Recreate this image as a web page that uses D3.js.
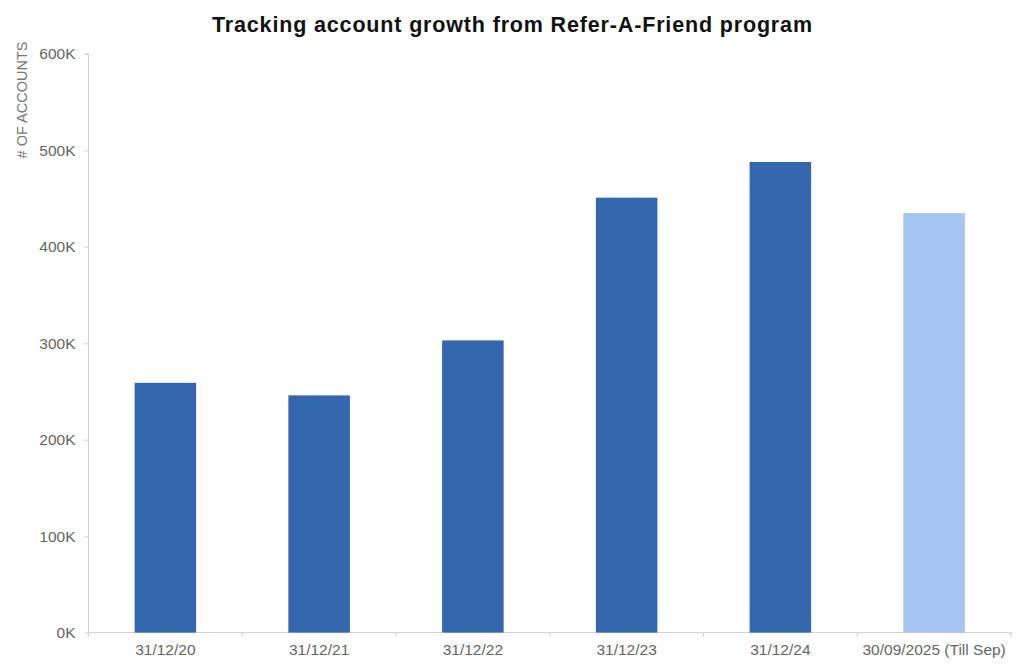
<!DOCTYPE html>
<html><head><meta charset="utf-8">
<script src="https://cdn.jsdelivr.net/npm/d3@7"></script>
<style>body{margin:0;background:#fff}svg{display:block}text{font-family:"Liberation Sans",Arial,sans-serif}</style>
</head><body>
<svg id="c" width="1024" height="667"></svg>
<script>
const categories = ["31/12/20","31/12/21","31/12/22","31/12/23","31/12/24","30/09/2025 (Till Sep)"];
const values = [259000, 246000, 303000, 451000, 488000, 435000];
const colors = ["#3567AF","#3567AF","#3567AF","#3567AF","#3567AF","#A6C4F2"];
const yTicks = [0,100000,200000,300000,400000,500000,600000];

const svg = d3.select("#c");
const m = {left:88.5, right:1011, top:54, bottom:632.6};
const x = d3.scaleBand().domain(categories).range([m.left, m.right]).paddingInner(0.6).paddingOuter(0.3);
const y = d3.scaleLinear().domain([0,600000]).range([m.bottom, m.top]);

svg.append("text").attr("x",512).attr("y",31.5).attr("text-anchor","middle")
  .attr("textLength",600).attr("lengthAdjust","spacing")
  .style("font-size","21.5px").style("font-weight","bold").attr("fill","#111")
  .text("Tracking account growth from Refer-A-Friend program");

// y axis
const ya = svg.append("g").attr("transform",`translate(${m.left},0)`)
  .call(d3.axisLeft(y).tickValues(yTicks).tickFormat(d=>(d/1000)+"K").tickSize(4).tickPadding(9));
ya.select(".domain").attr("stroke","#cfcfcf").attr("d",`M-4,${m.top}H0V${m.bottom}`);
ya.selectAll(".tick line").attr("stroke","#cfcfcf");
ya.selectAll(".tick text").attr("fill","#666").style("font-size","15.5px");

// x axis
const xa = svg.append("g").attr("transform",`translate(0,${m.bottom})`)
  .call(d3.axisBottom(x).tickSize(0).tickPadding(11));
xa.select(".domain").attr("stroke","#cfcfcf").attr("d",`M${m.left},0H${m.right}V4`);
xa.selectAll(".tick text").attr("fill","#666").style("font-size","15.5px");
const bounds = d3.range(categories.length+1).map(i => m.left + i*x.step());
xa.selectAll("line.b").data(bounds).enter().append("line").attr("class","b")
  .attr("x1",d=>d).attr("x2",d=>d).attr("y1",0).attr("y2",4).attr("stroke","#cfcfcf");

// bars
svg.append("g").selectAll("rect").data(values).enter().append("rect")
  .attr("x",(d,i)=>x(categories[i])).attr("width",x.bandwidth())
  .attr("y",d=>y(d)).attr("height",d=>y(0)-y(d))
  .attr("fill",(d,i)=>colors[i]);

// y label
svg.append("text").attr("transform","translate(27,100) rotate(-90)").attr("text-anchor","middle")
  .attr("fill","#777").style("font-size","14.5px").text("# OF ACCOUNTS");
</script>
</body></html>
